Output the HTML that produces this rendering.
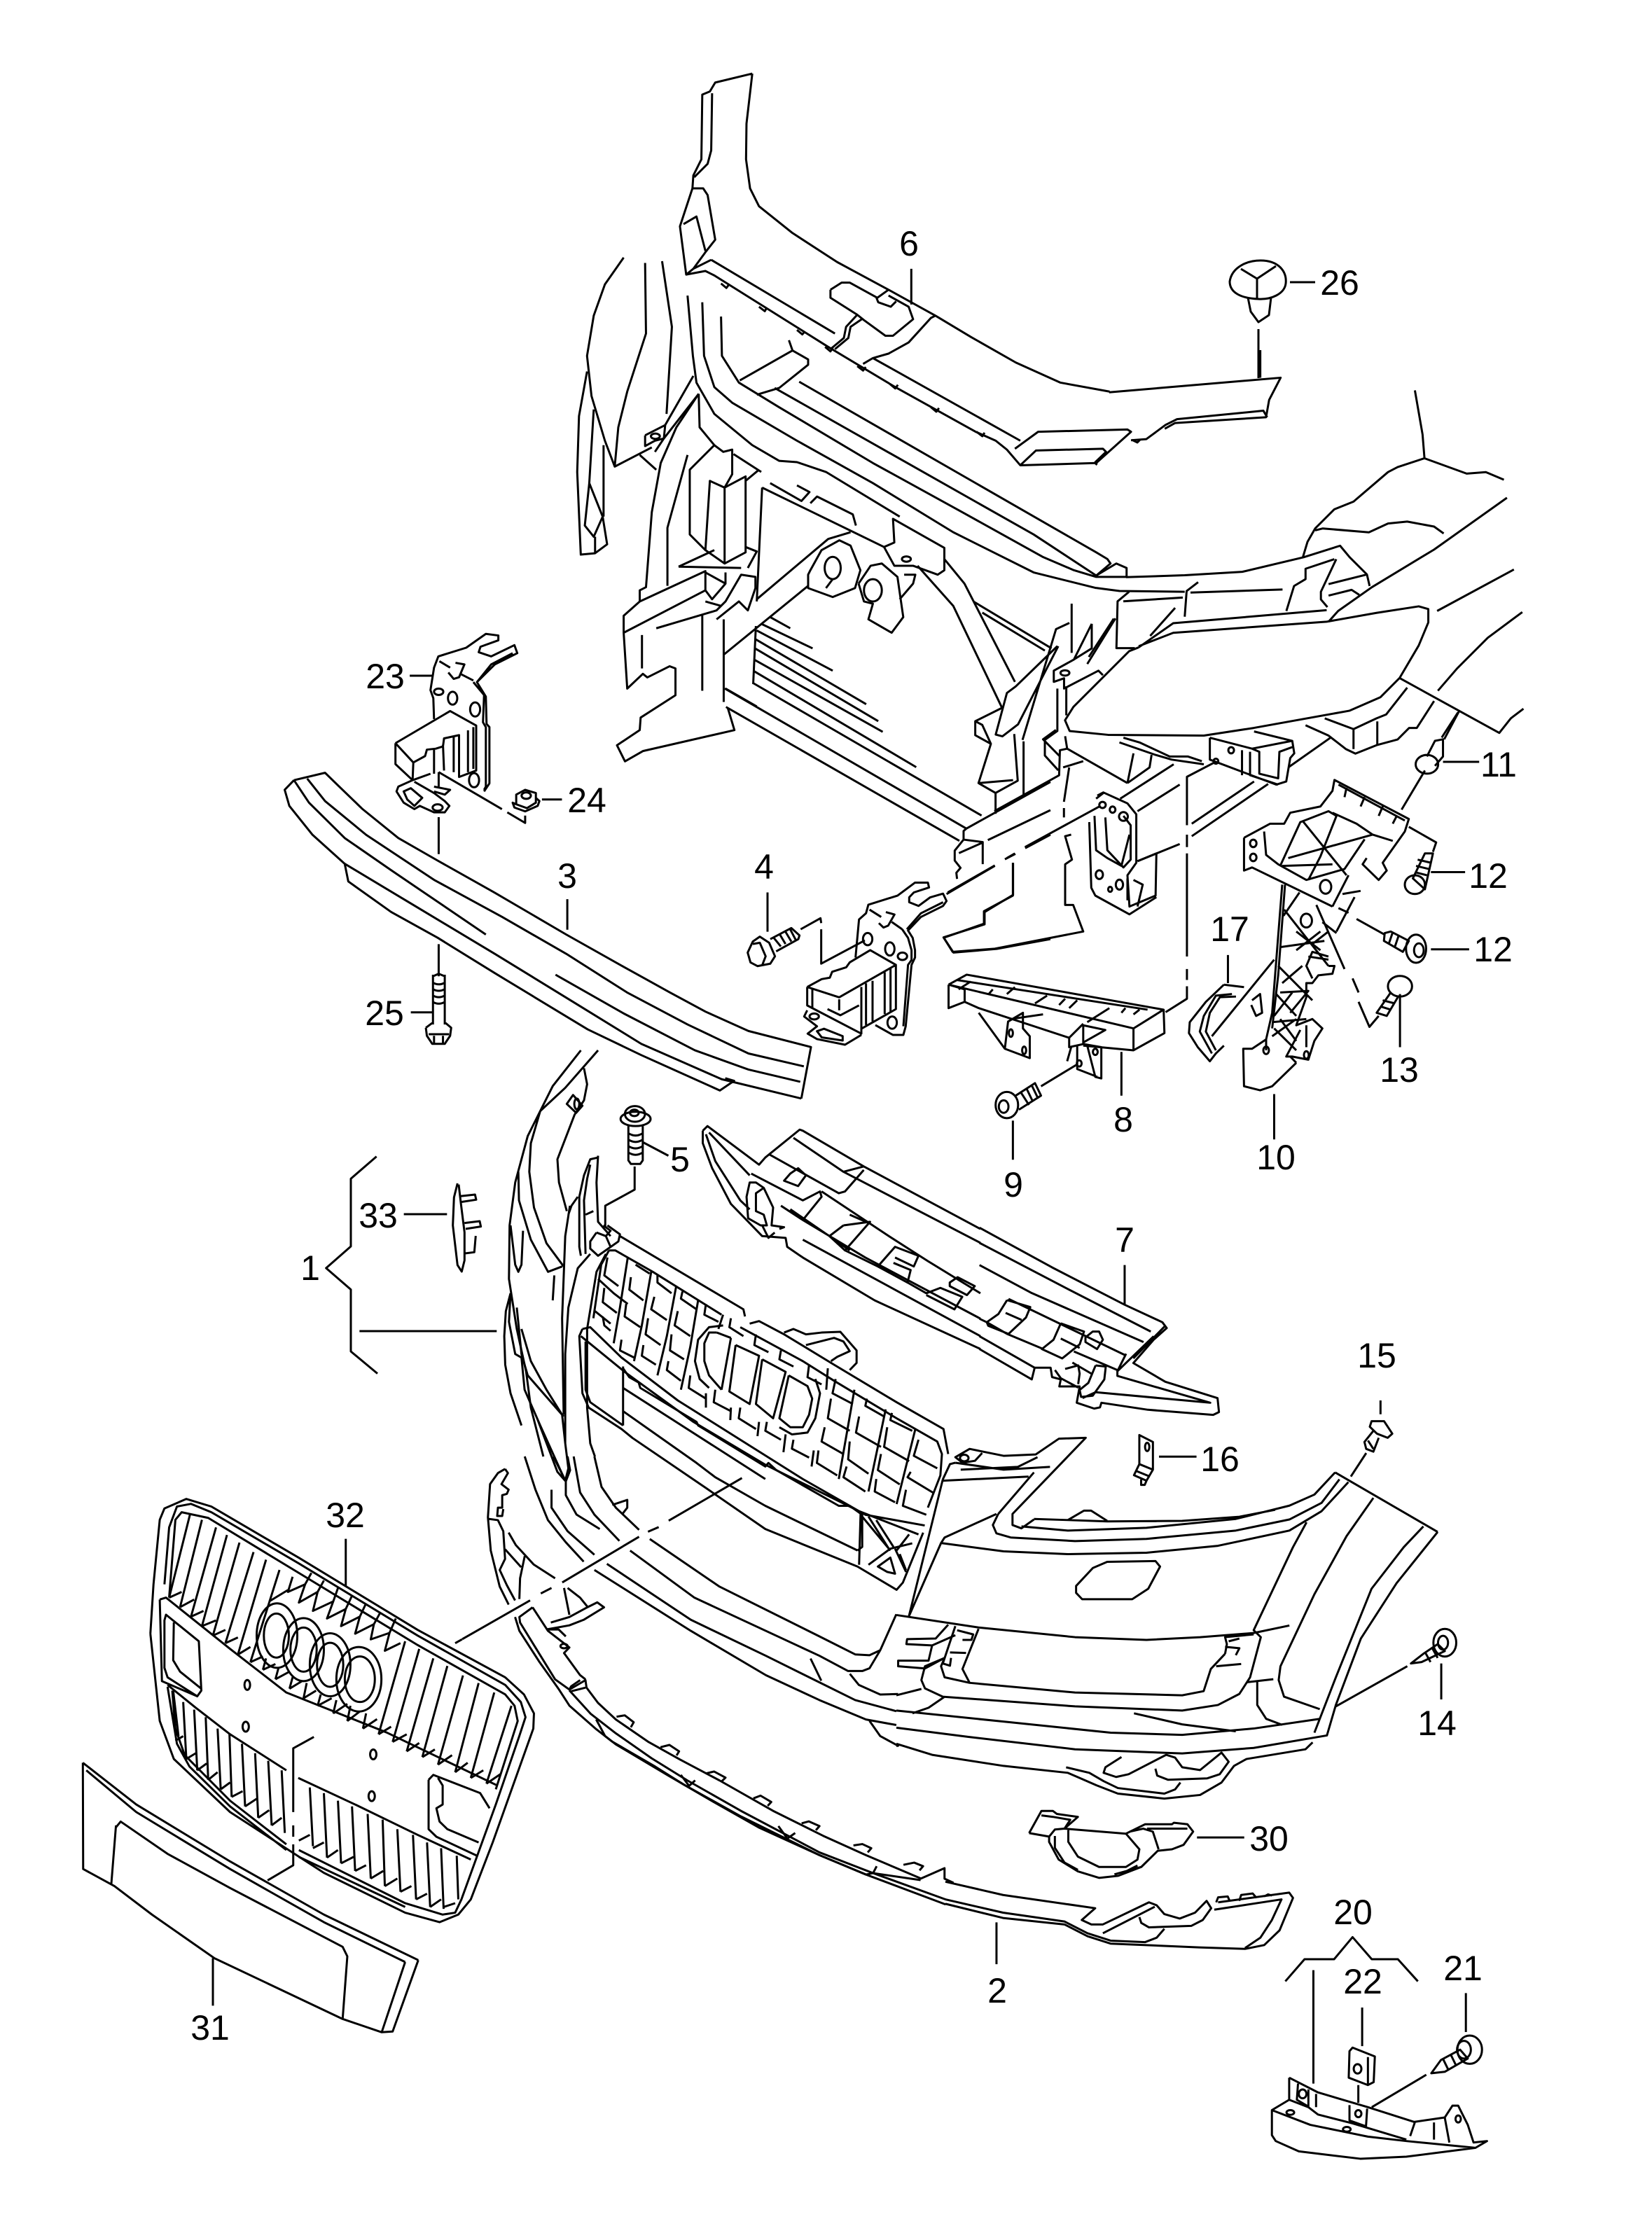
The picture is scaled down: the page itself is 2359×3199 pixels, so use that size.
<!DOCTYPE html>
<html><head><meta charset="utf-8"><style>
html,body{margin:0;padding:0;background:#fff}
svg{display:block}
path,ellipse{fill:none;stroke:#000;stroke-width:3;vector-effect:non-scaling-stroke;stroke-linejoin:round}
text{font-family:"Liberation Sans",sans-serif;font-size:50px;text-anchor:middle;fill:#000}
</style></head><body>
<svg xmlns="http://www.w3.org/2000/svg" width="2359" height="3199" viewBox="0 0 2359 3199">
<rect width="2359" height="3199" fill="#fff"/>

<!-- Z2 upper structure -->
<g transform="translate(800,100) scale(.6378)">
<path d="M430 8L347 28L335 48L318 55L316 200L298 236L296 265M340 52L338 180L330 210L300 240M430 8L417 120L416 200L425 265L445 305L520 365L620 430L735 492L840 550L920 598L1020 655L1120 700L1230 720M296 265L320 265L330 280L347 380L325 408L298 445L282 458L268 350L296 265M276 345L305 328L325 405M298 445L338 425M282 458L325 450L345 460L600 620L750 710L930 810L975 830L1000 850L1030 885L1200 880L1278 810L1270 805L1070 810L1018 848M1030 885L1065 852L1215 848L1222 855L1198 878M338 425L615 590M700 645L1030 830"/>
<path d="M605 492L630 476L648 476L710 510L735 492M605 492L605 510L665 548L680 560L728 595L745 595L790 558L780 530L735 505M708 510L712 520L740 530L752 518M665 548L640 575L635 600L605 625M675 558L650 575L645 600L615 625M840 550L830 555L780 610L735 635L700 645L678 658M786 445L786 525"/>
<path d="M360 478L372 488L378 480M445 530L458 540L462 533M530 582L542 592L548 585M593 620L605 630L610 622M665 663L678 673L684 665M738 703L750 713L756 705M830 755L842 765L848 757M932 810L945 820L950 812M1280 828L1292 834L1298 828M1195 878L1202 884"/>
<path d="M142 420L100 480L75 550L60 640L70 730L100 830L122 888L205 845M190 432L192 590L150 720L130 800L122 888M228 428L250 575L238 770M60 675L42 775L38 900L46 1085L78 1082L105 1062L95 1000L65 925L55 1020L75 1045L95 1000M75 760L65 925M78 1045L78 1082M97 840L97 1000M190 818L235 795L298 685M190 818L190 842L212 830L232 825L212 855M235 795L232 825L310 725M178 862L215 895"/>
<path d="M285 505L297 640L305 700L345 770L430 840L490 875L530 878L595 900L760 1000M310 725L312 800L345 840M402 695L520 628L555 648L555 660L490 712L440 727M520 628L512 605M480 712L1060 1040L1200 1132M535 698L1200 1080L1225 1095L1232 1105L1200 1132L1245 1105L1268 1115L1268 1135M360 552L362 640L400 700L490 755L700 880L900 990L1080 1090L1150 1120L1200 1135L1268 1135M318 520L322 640L345 710L385 745L530 830L700 925L880 1035L1060 1125L1200 1160"/>
<path d="M860 1095L905 1150L1018 1370M800 1110L880 1200L990 1430M925 1190L1100 1295M945 1215L1085 1300"/>
<path d="M345 840L290 895L290 1040L325 1075L368 1105L415 1080L415 910L368 935L335 920L325 1075M368 935L368 1105M345 840L365 855L385 850L385 905L368 935M415 920L445 895M388 860L450 900"/>
<path d="M285 862L240 1025L240 1155M310 725L260 800L225 880L205 990L192 1158L178 1165L178 1190L142 1222L142 1260L150 1385L185 1352L195 1360L245 1335L258 1340L258 1400L180 1450L178 1478L127 1512L145 1548L185 1525L390 1478L375 1428M142 1260L325 1165L325 1122L178 1190M183 1265L183 1340M215 1250L350 1210L370 1190L405 1130L437 1135L437 1160L420 1210L400 1190L350 1230M325 1125L370 1150L370 1125M265 1112L345 1075M420 1115L440 1078L415 1068M265 1112L405 1115M325 1165L340 1185L370 1150M325 1190L360 1200M318 1220L318 1390M366 1230L366 1415M370 1385L440 1425"/>
<path d="M452 935L440 1190M452 935L725 1068L748 1058L745 1005L860 1070L860 1120L845 1130L790 1110L748 1110L725 1068M470 925L540 965L558 945L530 930M560 970L575 955L655 995L662 1020M365 1310L555 1155M440 1185L600 1050L650 1035"/>
<path d="M560 1120L585 1075L625 1053L650 1065L672 1120L660 1160L610 1180L555 1160L555 1130ZM668 1150L695 1110L720 1105L755 1135L768 1225L742 1260L690 1230L700 1195L680 1190L668 1150M770 1130L795 1130L790 1150L760 1185M595 1160L610 1140"/>
<ellipse cx="775" cy="1095" rx="10" ry="6"/><ellipse cx="610" cy="1115" rx="18" ry="25"/><ellipse cx="700" cy="1165" rx="20" ry="25"/><ellipse cx="213" cy="820" rx="10" ry="6"/><ellipse cx="1130" cy="1350" rx="10" ry="6"/>
<path d="M432 1375L438 1245M470 1225L515 1250M450 1240L565 1295M440 1255L610 1345M438 1275L685 1420M436 1295L712 1458M434 1320L722 1482M432 1345L797 1561"/>
<path d="M1140 1238L1110 1252L1035 1500M1145 1195L1145 1305M1113 1290L1020 1380L1000 1395L975 1488L990 1492L1025 1465L1115 1290M1190 1240L1150 1320L1105 1345L1105 1370L1128 1362L1128 1385L1205 1345L1215 1355M1190 1240L1190 1295L1150 1320M1243 1228L1180 1330M1113 1385L1113 1480L1085 1500L1085 1535L1115 1568M1133 1380L1133 1445"/>
</g>

<!-- Z4 right upper -->
<g transform="translate(1500,500) scale(.5478)">
<path d="M153 110L600 72L570 130L562 175L325 190L298 205M210 235L250 232L300 195L330 180L555 158L565 175M547 0L547 72"/>
<path d="M950 105L970 220L975 282L905 305L880 318L790 395L740 415L690 465L670 500L658 540M975 282L1085 322L1135 318L1182 338M690 470L710 465L830 475L880 452L930 447L1000 460L1025 478M1190 385L1000 520L838 618L750 680L725 708M197 592L350 587L500 578L660 540L755 510L780 540L825 585L832 615M725 610L825 585M725 640L785 625L805 638M740 545L665 570L665 597L635 615L615 680M745 545L705 630L705 650L722 670M119 620L180 628L350 630M365 632L605 624M385 605L355 628L350 695M190 655L345 645M205 630L175 655L172 777L220 777M325 672L260 745M165 700L100 800"/>
<path d="M230 775L320 712L720 678M230 772L320 737L720 708L850 685L960 668L985 675L985 710L960 770L910 855L860 905L780 940L530 985L400 1005L150 1003L50 993L38 965L60 930L205 785L230 775"/>
<path d="M1008 680L1208 572M1230 683L1140 750L1060 830L1010 888M1233 935L1200 960L1170 998L910 855M1000 915L955 985L935 985L905 1015L850 1030L795 1052L770 1040L725 1005L665 978M930 880L875 950L850 960L790 988L715 960M790 988L790 1040M852 968L852 1030M1062 945L1020 1010"/>
</g>

<!-- Z5 mid-right -->
<g transform="translate(1300,1000) scale(.574,.4464)">
<path d="M745 120L745 190L910 270L935 260L945 185L955 170L950 130L855 100M745 120L850 155L950 130M850 155L868 165L868 235L915 250L918 165L950 150M825 160L825 240M845 165L845 240L915 270M755 200L688 245L688 400M688 430L688 470M688 490L688 820M688 860L688 895M688 915L688 955L635 998M1045 120L940 215M855 260L700 395M890 268L700 435M670 460L565 515M670 270L565 355M209 355L370 240L372 160L390 155L540 265M362 95L330 125L372 180M385 115L390 155M430 195L380 215M395 215L382 325M382 345L382 375M522 315L655 205M540 265L555 170M600 175L595 215L540 265M530 120L570 135L645 180L690 180L725 195M520 135L610 175L650 190L730 205"/>
<path d="M465 305L480 295L540 330L562 365L562 520L540 560L545 660L610 625L612 490L565 515M480 297L462 315M445 390L450 600L460 625L545 685L612 630M458 370L462 480L490 505L525 530L545 430M485 375L490 480L530 535L548 510L548 400L530 370M540 640L540 570M555 575L578 590L565 660M470 340L285 470M260 490L240 505M210 530L90 620M400 430L385 435L402 510L385 525L385 655L405 655L430 740L210 795L105 805L83 760L183 715L183 675L255 625L255 520"/>
<ellipse cx="478" cy="335" rx="8" ry="10"/><ellipse cx="503" cy="350" rx="7" ry="10"/><ellipse cx="530" cy="372" rx="11" ry="14"/><ellipse cx="470" cy="558" rx="9" ry="14"/><ellipse cx="497" cy="605" rx="5" ry="8"/><ellipse cx="520" cy="590" rx="9" ry="16"/><ellipse cx="798" cy="160" rx="7" ry="10"/><ellipse cx="760" cy="195" rx="6" ry="8"/>
<path d="M95 910L140 878L630 990L632 1065L555 1120L430 1105M95 910L95 985L135 965L135 925L95 910M95 910L555 1050L630 990M555 1050L555 1120M135 965L170 985L395 1080L430 1035M395 1080L395 1110L430 1100L430 1040L485 1055L430 1095M170 1000L235 1115L297 1145L297 1075L280 1050L280 1000L243 1028L235 1115M150 900L120 925M205 925L195 940M260 918L240 940M340 945L310 970M385 955L370 975M415 960L395 985M495 985L440 1030M535 985L525 1000M570 990L555 1005M250 1020L330 1005M115 895L590 990M430 1100L475 1110L475 1210L460 1205L440 1105M415 1105L415 1180L465 1205M390 1155L400 1110M525 1125L525 1265"/>
<ellipse cx="250" cy="1065" rx="5" ry="12"/><ellipse cx="283" cy="1120" rx="5" ry="12"/><ellipse cx="460" cy="1125" rx="6" ry="10"/><ellipse cx="420" cy="1162" rx="6" ry="10"/>
<ellipse cx="240" cy="1295" rx="28" ry="42"/><ellipse cx="232" cy="1300" rx="12" ry="20"/>
<path d="M262 1265L310 1225L325 1265L270 1310M275 1255L295 1295M290 1245L305 1285M303 1235L318 1275M325 1235L415 1165M255 1345L255 1470"/>
<path d="M780 910L830 918M790 815L790 905M780 910L735 965L695 1030L693 1065L715 1110L745 1155L760 1130L780 1105M800 940L760 945L730 1010L720 1060L750 1130M810 948L770 950L745 1000L735 1060L760 1120M905 830L750 1075M850 960L870 940L875 1000L860 1010L848 975"/>
<path d="M925 590L900 1000L885 1085L850 1115L828 1115L830 1235L870 1248L900 1235L960 1160M932 590L915 880L900 1050M968 615L928 690M930 670L1040 850M920 790L1030 770M1040 740L1000 780M915 850L1000 960M920 935L990 930L945 1000M1025 710L1060 745M1010 655L1080 860M1100 890L1115 935M1115 965L1142 1045L1165 1010M1040 850L1055 850L1050 875L1015 880L1000 905L985 905L985 950L960 1040L1000 1020L1025 1050L1005 1090L990 1150L950 1140L935 1140L970 1055M1040 820L1000 805L985 850L1000 890M905 1050L960 1120M950 935L905 1010"/>
<path d="M960 740L1020 800M1020 740L960 800M975 850L925 905M910 940L960 1010M900 1030L985 1020M920 1020L960 1090M960 1020L900 1075M985 1040L985 1110M885 1085L885 1120M960 1160L945 1140M990 820L1040 830"/>
<ellipse cx="985" cy="705" rx="14" ry="22"/><ellipse cx="885" cy="1120" rx="7" ry="12"/><ellipse cx="985" cy="1135" rx="6" ry="12"/>
<path d="M830 440L830 545L850 535L1050 660M830 440L895 395L930 395L945 360L1020 340L1050 290L1055 255L1240 380L1230 420L1175 520L1185 545L1165 575L1125 525L1135 505M880 420L885 495L915 525L985 575L1080 540L1130 445M920 530L970 390L1040 355L1060 370L1020 500L990 575M975 385L1085 560M940 505L1150 430M925 530L1050 525M1050 360L1110 395L1150 430L1200 450M1065 270L1230 385M1085 280L1080 310M1130 310L1120 340M1175 340L1165 370M1210 370L1200 395M1090 560L1050 660M1105 630L1060 740M1120 610L1075 620M1065 665L1090 680M1110 700L1180 750"/>
<ellipse cx="853" cy="458" rx="8" ry="12"/><ellipse cx="853" cy="503" rx="8" ry="12"/><ellipse cx="1033" cy="597" rx="14" ry="22"/>
<path d="M1240 405L1308 455L1300 485M1280 490L1300 490L1280 605L1250 570ZM1262 510L1295 520M1258 530L1290 540M1255 550L1285 560"/><ellipse cx="1255" cy="590" rx="25" ry="30"/>
<path d="M1295 550L1380 550M1295 797L1390 797M1180 745L1195 740L1240 770L1225 805L1178 770ZM1200 742L1190 780M1215 752L1205 790"/><ellipse cx="1258" cy="795" rx="25" ry="45"/><ellipse cx="1265" cy="800" rx="12" ry="22"/>
<ellipse cx="1285" cy="205" rx="28" ry="30"/>
<path d="M1285 180L1305 130L1325 125L1325 180L1305 210M1365 35L1328 125M1280 225L1222 350M1325 197L1415 197"/>
<ellipse cx="1218" cy="915" rx="30" ry="33"/><path d="M1195 935L1160 1000L1185 1010L1215 945M1175 960L1205 970M1170 980L1195 990M1218 940L1218 1110"/>
<path d="M905 1260L905 1405"/>
</g>

<!-- Z6 bar 3, 23 -->
<g transform="translate(380,880) scale(.5102,.4592)">
<path d="M470 320L468 255L460 230L470 160L482 125L560 98L615 55L650 60L650 75L600 95L595 112L630 125L695 90L703 115L640 150L590 205L615 250L617 335L625 345L625 520L610 545M580 205L610 245L607 330L615 345L615 530L610 540M590 205L630 150L690 115M485 140L515 160M545 180L580 200M510 175L525 195L540 190L555 150L530 145M402 185L468 185"/>
<ellipse cx="483" cy="235" rx="13" ry="10"/><ellipse cx="522" cy="255" rx="13" ry="20"/><ellipse cx="585" cy="290" rx="14" ry="22"/><ellipse cx="582" cy="510" rx="14" ry="22"/>
<path d="M362 395L515 295L588 340L588 480L540 500L540 370L498 380L495 405L475 412L450 415L445 435L412 455L362 395M362 395L362 460L410 510L412 455M410 510L460 490M470 415L470 490M495 400L498 480M525 375L525 485M565 355L565 485M580 345L580 475M410 510L370 530L365 545L385 580L415 600L430 590L470 610L500 610L513 590L500 575L470 550L415 515M385 545L405 535L437 565L415 590L395 570ZM470 530L515 540L500 555L470 545"/>
<ellipse cx="480" cy="595" rx="14" ry="10"/>
<path d="M483 485L483 530M483 485L660 600M675 610L725 643L725 620M483 625L483 740M483 1020L483 1120"/>
<path d="M700 555L725 540L755 550L755 580L730 597L700 585ZM700 585L690 580L695 595L725 607L760 590L765 575L755 565M772 570L828 570"/><ellipse cx="728" cy="558" rx="13" ry="10"/>
<path d="M78 510L165 487L200 525L270 600L370 690L480 760L640 860L840 990L1000 1090L1130 1170L1230 1230L1350 1290L1525 1340L1498 1500M78 510L52 540L65 590L130 680L220 770L400 890L640 1050L860 1200L1050 1330L1275 1440L1498 1500M220 770L230 825L350 920L480 1000L640 1110L900 1285L1050 1365L1270 1475L1310 1445L1285 1437M115 505L165 575L280 680L470 820L660 935L840 1050L1010 1170L1180 1270L1350 1360L1505 1400M78 510L120 580L220 690L350 790L615 990M810 1115L1000 1235L1200 1350L1350 1410L1495 1448M843 880L843 975"/>
<path d="M467 1115L467 1270M500 1115L500 1270M467 1120L483 1112L500 1120M467 1140Q483 1150 500 1140M467 1160Q483 1170 500 1160M467 1180Q483 1190 500 1180M467 1200Q483 1210 500 1200M447 1280L465 1265M502 1265L518 1280L515 1305L500 1330L465 1330L450 1305L447 1280M455 1300L512 1300M470 1305L470 1330M495 1305L495 1330M405 1232L465 1232"/>
</g>

<!-- Z10 mid -->
<g transform="translate(1000,950) scale(.3333,.3508)">
<path d="M105 95L1140 665M110 170L1110 715M225 72L1205 612M1140 665L1500 475M1140 665L1128 675L1128 710L1090 755L1090 795L1115 825L1097 845L1100 870M1128 710L1210 720L1210 810M1108 765L1210 722M1232 712L1500 590M1392 745L1500 690M1305 790L1350 768M1060 925L1262 815M1340 805L1340 935L1218 1005L1218 1055L1042 1108L1085 1170L1270 1155L1500 1115M1290 175L1178 228L1178 285L1245 320L1192 480L1265 520L1265 605M1178 228L1208 243L1245 320M1265 520L1360 470L1345 280M1192 480L1340 468M1385 530L1385 310"/>
<path d="M225 1125L255 1105L295 1130L320 1185L300 1215L245 1225L215 1210L203 1170ZM225 1135L255 1130L280 1185L265 1222M300 1115L390 1070L425 1100L420 1115L325 1165M315 1110L345 1145M340 1095L365 1135M365 1085L390 1125M385 1075L410 1120M288 925L288 1085M430 1075L515 1030L518 1050M518 1075L518 1215L705 1120"/>
<path d="M665 1190L680 1035L710 1010L720 975L845 938L920 885L975 885L980 905L915 925L895 945L895 965L935 980L985 945L1040 930L1055 960L1040 980L945 1025L890 1080L910 1110L920 1160L920 1190L905 1220L880 1470L870 1505L825 1505L750 1465M865 1075L890 1110L905 1160L905 1200L890 1220L870 1470M885 1075L945 1010L1040 965M725 995L775 1025M820 1045L865 1075M765 1050L785 1068L805 1060L832 1015L795 1005"/>
<ellipse cx="717" cy="1115" rx="20" ry="25"/><ellipse cx="812" cy="1155" rx="20" ry="27"/><ellipse cx="866" cy="1185" rx="20" ry="15"/><ellipse cx="822" cy="1455" rx="20" ry="25"/>
<path d="M458 1310L520 1278L555 1272L565 1248L625 1230L640 1210L728 1160L838 1220L838 1400L690 1480M458 1310L595 1352L838 1220M458 1310L458 1385L690 1500L690 1310M480 1320L480 1395M595 1360L595 1405M545 1400L600 1425L680 1385M710 1295L710 1465M738 1285L738 1450M790 1250L790 1420M815 1235L815 1410M458 1405L445 1430L500 1470L460 1500L500 1522L620 1545L690 1505M500 1490L530 1480L610 1510L610 1528L520 1515Z"/>
<ellipse cx="488" cy="1430" rx="20" ry="12"/>
</g>

<!-- Z12 brace 1 + 33 -->
<g transform="translate(400,1600) scale(.3333)">
<path d="M413 155L303 250L303 540L197 633L303 725L303 990L417 1085M340 903L928 903M530 402L715 402M760 270L745 330L740 450L760 620L778 648L790 600L790 480L775 360L765 275M770 325L835 318L840 340L775 350M790 440L855 432L860 455L795 465M838 495L832 565L792 570"/>
</g>

<!-- Z1 bumper + grille -->
<g transform="translate(700,1500) scale(.4464,.5102)">
<path d="M345 0L240 105L160 170L130 260L125 340L140 440L180 540L235 605M300 50L310 95L300 140L270 180L215 305L220 370L245 450M245 150L265 125L295 155L275 175ZM290 0L200 100L120 240L80 370L62 490L60 640L85 780L115 900L130 1000L170 1137"/>
<ellipse cx="277" cy="150" rx="8" ry="15"/>
<path d="M345 300L320 305L300 350L285 410L285 550L290 575M345 295L340 370L345 480L385 520M320 320L310 360L300 420L305 570M330 450L305 460M340 510L320 535L320 555L345 575L410 535L415 515L375 490M340 510L370 520L385 505L362 490M370 520L385 550M368 495L368 435L462 390L462 325"/>
<!-- bolt 5 -->
<ellipse cx="465" cy="192" rx="48" ry="20"/><ellipse cx="463" cy="178" rx="32" ry="22"/><ellipse cx="461" cy="175" rx="14" ry="9"/>
<path d="M442 212L442 308L450 318L480 318L488 308L488 212M442 232Q465 245 488 232M442 250Q465 263 488 250M442 268Q465 281 488 268M442 286Q465 299 488 286M490 258L570 295"/>
<path d="M250 460L260 435L280 410M320 570L280 610L250 720L240 850L240 1100L250 1170L240 1205L215 1180L150 1030M370 570L340 620L310 780L310 1000L320 1100L335 1137M255 435L240 520L230 750L235 1020M90 340L92 420L130 530L185 620L230 605M205 630L200 700M105 505L100 600L90 620L80 600L65 490M65 680L50 730L45 800L48 880L65 960L100 1050M65 680L60 760L80 850L100 860M85 720L100 850L120 910L235 1025M100 780L130 870L180 950L230 1020M100 860L110 950L160 1050L240 1205M230 1020L240 1100"/>
<path d="M415 520L810 725L815 745M830 765L860 758L940 795L1100 880L1300 985L1450 1060L1465 1130M940 790L970 780L1010 795L1060 790L1120 788L1172 840L1172 875L1150 895M1010 825L1100 805L1130 815L1150 842L1110 858L1090 870"/>
<path d="M380 560L355 600L330 750M380 560L400 560L520 620L740 740M800 775L1000 870L1100 925L1300 1030L1430 1095L1445 1130L1440 1190L1400 1280M295 780L320 775L420 860L600 980L800 1090L1000 1200L1200 1300L1390 1330M290 800L430 900L650 1040L880 1160L1180 1290L1370 1355M295 780L285 800L295 960L315 1000L420 1060L455 1085L690 1225L880 1340L1175 1445L1300 1510L1320 1490L1385 1350M305 815L305 950L320 985L425 1050"/>
<path d="M440 580L415 720L395 820M515 620L485 770L460 870M595 660L565 800L535 910M665 700L640 830L610 950M745 740L730 780M690 960L690 1000M770 1000L768 1035M860 1040L855 1080M945 1075L938 1125M1035 1120L1028 1165M1080 890L1075 950M1165 950L1115 1200M1265 1005L1210 1235M1360 1060L1300 1270"/>
<path d="M375 580L365 630L410 660M345 640L395 680L440 710M365 665L360 705L405 735M335 730L385 765M360 745L365 770L385 785M420 810L415 840L460 860M465 600L510 625M450 635L445 670L490 700M435 710L430 745L480 775M490 825L485 855L530 880M535 630L535 650L580 680M525 690L515 725L565 755M505 750L497 795L545 825M570 870L565 895L610 925M615 675L610 695L660 725M600 730L590 770L640 800M580 795L575 840L620 865M690 710L685 740L730 760M640 910L635 945L690 975M770 750L765 775L810 800M850 795L845 825L890 845M930 840L925 865L970 885M1020 880L1015 915L1060 935M720 950L715 985L770 1010M800 1000L795 1030L850 1060M885 1040L880 1065L930 1090M970 1090L965 1115L1020 1140M1105 920L1095 960L1160 990M1205 975L1200 995L1260 1025M1285 1015L1280 1035L1350 1065M1090 975L1080 1030L1150 1065M1180 1025L1170 1070L1250 1110M1270 1055L1260 1110L1340 1150M1370 1090L1355 1135L1430 1170M1070 1055L1060 1095L1130 1130M1150 1095L1145 1145L1210 1185M1250 1130L1240 1175L1310 1215M1345 1180L1335 1195L1420 1240M1050 1120L1045 1155L1110 1190M1140 1165L1130 1195L1200 1235M1235 1200L1230 1235L1295 1265M1330 1230L1320 1275L1395 1300"/>
<path d="M725 790L700 790L685 820L685 870L700 910L740 950M745 770L700 775L665 810L655 870L670 920L700 945M770 805L740 950M785 825L765 955L830 990L860 855L785 825M870 865L850 990L905 1030L945 900L870 865M955 910L925 1030L960 1055L1000 1055L1020 1020L1030 975L1015 940L955 910M1040 920L1055 960L1040 1030L1015 1070L965 1075L925 1055M725 790L770 805"/>
<path d="M425 885L425 1050M425 890L445 915L475 930L480 945L660 1040L665 1050L880 1165L890 1155L915 1175L1115 1275L1150 1275L1190 1300L1190 1390L1175 1400M425 1010L660 1155L720 1195L880 1275L1175 1400M425 945L880 1200M1185 1290L1180 1440M1185 1300L1280 1400M1210 1305L1275 1395M1235 1315L1290 1390M1300 1400L1340 1355M1210 1440L1280 1395L1350 1380M1240 1445L1280 1420L1295 1465L1270 1460ZM1295 1395L1330 1460M1310 1410L1330 1455"/>
<path d="M680 225L695 212L860 320L880 300L990 222L1000 225L1195 325L1568 500M680 225L680 260L710 330L770 430L820 475L870 520L945 525L950 550L1000 580L1230 700L1568 836M690 235L720 310L800 420L830 445M830 350L700 230M970 245L1130 340L1195 325M1195 335L1135 395L1115 400L890 290M835 345L1000 420L1055 395L1060 410L1000 475L930 435M1060 395L1275 520L1400 590L1568 680M1130 340L1568 539M960 445L1085 520L1135 560L1215 480L1130 490M1085 520L1150 560M1150 460L1215 485M1130 490L1085 520M830 370L820 410L825 470L865 490L885 490L875 460L850 450L850 400L875 385L850 370ZM875 385L905 440L900 490L940 495L925 500M870 490L890 525L910 510M960 345L985 330L1010 350L985 380L940 365ZM1135 560L1240 605L1295 550L1370 575L1355 605L1295 580M1240 605L1335 650L1345 615L1290 595M1335 650L1395 680L1440 665L1510 690L1485 725L1395 685M1470 650L1495 635L1550 660L1525 685L1470 660ZM1000 530L1568 800M1000 475L1200 580L1568 751"/>
</g>

<!-- Z11 part 7 right -->
<g transform="translate(1150,1650) scale(.4145,.3333)">
<path d="M600 310L850 480L1100 640L1230 715L1245 740L1200 790L1130 890L1240 970L1420 1040L1425 1100L1405 1112L1180 1090L1020 1060L1015 1080L995 1085L935 1060L945 990L875 990L880 960L850 950L845 910L790 910L780 960L600 830M600 375L900 570L1190 755M600 470L780 590L1165 800M600 700L625 715L695 765L820 830M600 775L790 910M695 620L775 650L760 695L700 765L630 730L625 715L665 680L695 620M690 675L745 705M700 615L1100 855M880 720L960 755L945 810L885 870L815 830L855 790L880 720M880 785L945 825M925 840L1075 920M965 780L990 755L1012 755L1025 790L1005 830L965 800ZM1105 850L1075 925L1200 775M1075 925L1075 945L1395 1060L1000 1015M1240 730L1130 870M920 888L985 935M1000 900L1035 905L1030 960L990 1030L950 1035L945 1005L975 975L1000 900M860 920L880 955L940 995M895 915L940 900L945 935L940 980M955 1040L1000 1015M1100 470L1100 640"/>
</g>

<!-- Z7 right bumper -->
<g transform="translate(1280,2000) scale(.5102,.3954)">
<path d="M0 775L230 820L500 855L700 865L850 855L1000 840L1100 813M35 780L125 515L135 495L280 410M130 285L35 780M125 515L300 545L480 555L700 550L900 525L1100 470L1190 400L1265 295M285 410L270 450L280 480L320 495L500 508L700 500L950 470L1100 430L1190 370L1240 285M1228 260L1170 340L1100 380L950 428L700 460L480 470L350 455M385 430L350 462L325 450L325 410L530 135L455 138L390 195L300 200L205 175L165 205L185 225L220 218L240 190M165 225L150 230L130 285M165 225L300 250L430 240M130 290L370 275M395 205L340 240L180 250M385 260L285 410M385 428L480 432L525 398L545 398L590 435M480 432L590 437L800 435L960 420L1060 395"/>
<ellipse cx="190" cy="208" rx="12" ry="12"/>
<path d="M550 605L590 583L725 580L738 600L705 680L660 718L520 718L503 695L503 670Z"/>
<path d="M1228 260L1515 475M1335 352L1260 490L1170 700L1075 960L1070 1010L1085 1070L1185 1115M1148 440L1110 530L1000 830L1020 855L990 1000L960 1060L900 1100L800 1120L500 1105L130 1070L80 1040L70 1010L80 960L135 930L125 960L135 1000L205 1020L500 1055L800 1065L860 1050L880 970L920 915M1475 455L1420 530L1330 680L1230 1000L1170 1200M1515 475L1400 660L1300 860L1230 1100L1205 1210L1000 1255L800 1275L500 1260L200 1215L0 1182M1185 1150L1000 1185L800 1208L600 1200L300 1160L0 1120M665 1130L800 1170L950 1195M1010 1015L1010 1100L1035 1150L1080 1172M980 1018L1055 1007M1230 1105L1430 960M135 1070L90 1110L45 1130M0 1065L70 1042"/>
<path d="M0 1240L100 1280L300 1320L480 1345L560 1390L620 1420L750 1438L850 1425L910 1380L945 1320L980 1295L1145 1260L1165 1235M475 1325L540 1345L580 1375L620 1400L750 1420L780 1405L795 1380M630 1288L585 1325L580 1345L615 1360L650 1350L755 1280L780 1290L800 1325L850 1335L910 1272L930 1305L905 1350L870 1365L760 1370L730 1355L725 1330"/>
<path d="M920 915L925 880L920 855L1000 845M895 960L965 952M920 890L960 895L950 920M930 870L960 860M230 825L185 970L205 1020M165 815L130 950L150 958L153 930M170 830L215 845L210 865L185 865M150 910L195 912M145 810L110 860L30 862L28 880L100 885L165 848M100 885L90 940L5 940L5 960L80 968L135 930"/>
<path d="M1330 75L1365 75L1388 120L1375 135L1345 120L1325 95ZM1335 110L1310 150L1315 175L1335 185L1350 135M1320 145L1335 175M1355 0L1355 50M1315 190L1272 275"/>
<path d="M680 125L718 150L718 250L700 290L665 270L680 230ZM680 230L718 250M672 255L710 275M685 285L685 305L695 305L700 290M735 203L840 203"/><ellipse cx="702" cy="168" rx="6" ry="15"/>
<ellipse cx="1535" cy="875" rx="32" ry="50"/><ellipse cx="1530" cy="875" rx="14" ry="25"/>
<path d="M1440 950L1475 915L1515 880L1535 905L1470 945ZM1480 910L1495 945M1500 895L1515 930M1525 950L1525 1080"/>
</g>

<!-- Z8 lower bumper left -->
<g transform="translate(660,2080) scale(.5102,.3954)">
<path d="M120 45L100 60L78 100L72 220L80 340L105 470L130 535M120 45L128 60L110 100L130 120L125 135L112 140L112 185L100 185L98 215L112 215L115 190M72 225L100 230L115 270L120 370L105 410L125 465L148 520M130 275L150 320L200 390L260 440M120 335L165 400M175 360L162 440L160 515"/>
<path d="M175 0L205 120L240 230L290 310L340 380M255 0L290 90L302 50L295 0M290 90L290 140L320 210L385 262M250 120L250 185L295 270L370 355M312 0L330 130L370 210L440 305M370 0L390 110L430 185L495 265M420 175L462 157L462 185L450 205"/>
<path d="M525 298L720 470L1000 650L1100 715L1140 718L1170 700M470 340L650 510L1000 720L1080 775L1120 775L1140 765L1170 700L1215 570M405 388L640 590L850 720L1100 880L1215 920M370 410L640 630L850 790L1000 880L1130 950L1215 970M1140 955L1170 1010L1220 1045L1215 1045M975 730L1005 810M1085 785L1110 825L1170 860L1220 858"/>
<path d="M0 660L190 520M220 495L250 475M280 455L495 290M520 272L550 255M578 232L783 78"/>
<path d="M148 580L160 630L215 740L270 840L300 900L375 985L420 1030L540 1120L620 1185L780 1300L890 1370L1000 1440L1130 1510L1353 1618M197 545L160 580L162 600L260 805L300 842L345 808L348 835L380 890L430 950L520 1030L610 1095L720 1170L870 1280L1010 1370L1130 1440L1285 1525M197 545L240 630L270 660L300 690L285 710L330 790L345 805M300 842L305 830L330 808M305 848L345 835M240 625L270 625L290 650M248 600L300 580L350 545L378 527L397 545L340 590L300 610L235 625M285 475L300 572M295 475L330 510L352 545"/>
<ellipse cx="285" cy="685" rx="10" ry="8"/>
<path d="M300 845L360 930L430 1000L530 1090L630 1170L780 1280L1000 1430L1150 1505L1283 1530M375 950L400 1010L430 1040L580 1155L700 1245L830 1340L1000 1440L1130 1510L1150 1505L1160 1480M612 1150L635 1190L652 1170M885 1335L910 1380L932 1360M1150 1505L1353 1600M1283 1525L1350 1487L1350 1525L1375 1540"/>
<path d="M432 940L455 935L480 960L472 978M555 1050L580 1042L607 1065L600 1080M682 1145L705 1138L737 1160L725 1175M815 1235L835 1225L865 1248L855 1262M950 1325L970 1318L1000 1335L990 1350M1095 1405L1120 1400L1145 1415L1135 1430M1235 1475L1265 1467L1290 1480L1280 1495"/>
</g>

<!-- Z9 bottom right -->
<g transform="translate(1350,2500) scale(.5485,.4209)">
<path d="M0 445L150 490L390 535L355 575L380 590L410 590L530 515L550 525L570 555L610 570L650 550L680 510L692 535L670 575L640 595L530 600L510 585L505 565M0 505L150 550L310 580L370 620L430 645L520 650L550 635L570 605M0 520L150 568L310 590L370 630L430 655L660 668L780 673L830 660L870 610L905 500L895 482L710 515M545 530L410 620M780 670L820 635L850 575L875 505L700 540M705 515L710 498L735 495L740 510M765 510L770 490L800 485L810 500M830 495L840 488L850 492"/>
<path d="M218 280L250 205L280 205L290 215L345 225L310 265L470 282L520 250L590 250L595 245L630 250L645 275L620 320L590 335L553 340L510 395L450 425L400 432L345 410L295 370L270 310L270 292L218 280M250 220L280 225L325 235L310 265M270 292L285 268L310 265M285 290L285 330L310 380L345 405M320 270L320 310L345 360L400 395L470 395L500 370L505 335L470 282M480 275L515 265L540 275L555 335M525 265L630 265M510 395L440 420M500 390L470 410M655 295L778 295M133 583L133 725"/>
<path d="M885 783L935 708L1012 708L1060 633L1110 708L1178 708L1230 783M958 745L958 1130M1085 872L1085 1003M1355 823L1355 955M1052 1020L1060 1008L1118 1038L1115 1125L1100 1135L1050 1110ZM1100 1040L1100 1135M1075 1135L1075 1195M1265 1095L1290 1050L1340 1015L1360 1045L1300 1090ZM1295 1045L1310 1085M1315 1030L1330 1070M1252 1100L1110 1210"/>
<ellipse cx="1073" cy="1080" rx="10" ry="16"/><ellipse cx="1365" cy="1015" rx="32" ry="48"/><ellipse cx="1350" cy="1015" rx="18" ry="30"/>
<path d="M895 1110L895 1185L850 1220L850 1305L860 1325L920 1360L1080 1385L1200 1378L1380 1348L1410 1325L1375 1330L1360 1270L1335 1205L1320 1205L1300 1245L1220 1260L1100 1210L970 1160L895 1110M850 1220L950 1270L1100 1310L1200 1325L1380 1348M895 1185L945 1210L970 1235L1060 1265L1200 1320M918 1130L915 1185L945 1208L945 1150M1052 1203L1052 1255L1095 1275L1098 1215M965 1165L965 1210M1222 1262L1210 1308M1272 1262L1272 1320M1300 1245L1312 1330"/>
<ellipse cx="930" cy="1165" rx="10" ry="15"/><ellipse cx="1075" cy="1232" rx="8" ry="12"/><ellipse cx="898" cy="1228" rx="10" ry="8"/><ellipse cx="1045" cy="1285" rx="10" ry="8"/><ellipse cx="1335" cy="1250" rx="7" ry="12"/>
</g>

<!-- Z3 grille 32 + 31 -->
<g transform="translate(150,2100) scale(.4464,.5421)">
<path d="M145 430L155 300L175 130L190 100L260 75L340 95L620 230L1000 420L1280 545L1340 590L1372 640L1370 680L1240 980L1170 1130L1130 1170L1070 1190L960 1165L700 1060L400 900L220 760L175 660L145 430M190 300L205 150L230 95L275 88L340 110L620 245L1000 435L1280 565L1330 610L1345 650L1325 700L1250 880L1140 1130L1120 1165L1080 1170L960 1140L620 1000M205 335L225 130L245 110L330 125L620 270L1000 460L1280 590L1310 620L1320 660L1250 840M215 580L225 680L255 750L400 870L580 985M200 570L230 720L270 780L400 885L580 1000"/>
<path d="M175 340L195 335L400 470L580 585L900 690L1255 830M175 340L182 555L295 595M195 380L300 450L308 580L295 595L200 545L190 520L190 395ZM220 400L218 500L240 530L308 575M200 565L290 625L400 695L580 790M618 810L800 880L1000 960L1170 1025M1035 815L1050 802L1200 850L1230 890M1035 815L1035 945L1060 965L1190 1015M1065 810L1080 830L1080 880L1060 890L1070 925L1095 945L1195 980"/>
<ellipse cx="455" cy="565" rx="9" ry="13"/><ellipse cx="450" cy="675" rx="10" ry="13"/><ellipse cx="858" cy="748" rx="10" ry="13"/><ellipse cx="853" cy="858" rx="10" ry="13"/>
<path d="M272 115L205 335M310 130L240 360M355 150L275 385M390 170L310 410M430 190L345 435M475 215L385 455M515 235L425 485M558 262L465 505M205 335L245 320M240 360L285 340M275 385L315 370M310 410L355 395M345 435L385 420M385 455L425 440M425 485L465 465"/>
<path d="M600 280L585 320L640 300L620 348L680 320L665 370L730 345L710 390L770 365L755 410L815 385L800 430L860 405L850 445L910 428L895 475L945 455M640 300L660 270M680 320L700 290M730 345L745 310M770 365L790 330M815 385L835 350M860 405L880 375M910 428L930 390M525 345L585 315"/>
<ellipse cx="550" cy="435" rx="65" ry="85"/><ellipse cx="548" cy="435" rx="40" ry="58"/><ellipse cx="635" cy="472" rx="65" ry="83"/><ellipse cx="635" cy="472" rx="42" ry="58"/><ellipse cx="720" cy="512" rx="65" ry="83"/><ellipse cx="720" cy="512" rx="42" ry="58"/><ellipse cx="812" cy="550" rx="72" ry="85"/><ellipse cx="815" cy="550" rx="48" ry="60"/>
<path d="M465 505L505 490M505 525L545 510M545 550L590 530M590 575L630 555M635 600L675 580M680 620L725 600M730 640L775 615M775 660L815 635M825 680L870 655M515 495L505 525M555 520L545 550M600 545L590 575M645 560L635 600M690 590L680 620M740 605L730 640M785 620L775 660M835 640L825 680"/>
<path d="M960 450L875 695M1005 470L920 715M1050 495L965 740M1095 515L1015 755M1145 540L1065 775M1195 560L1120 795M1245 585L1170 810M1300 620L1220 825M875 695L915 675M920 715L965 695M965 740L1005 718M1015 755L1055 735M1065 775L1110 750M1120 795L1160 770M1170 810L1210 790M1220 825L1265 800"/>
<path d="M218 580L235 700M250 610L260 760M285 630L295 790M322 650L330 815M360 680L370 840M398 695L405 860M438 720L448 885M480 745L490 915M522 765L533 935M565 790L575 955M225 712L250 700M260 760L290 745M295 790L325 772M330 815L360 795M370 840L400 822M405 860L440 845M448 885L485 865M490 915L525 895M533 935L565 915"/>
<path d="M655 835L665 990M700 850L710 1020M745 870L755 1035M790 885L800 1055M840 905L850 1075M888 920L895 1095M935 945L945 1110M985 960L995 1130M1030 980L1040 1150M1075 995L1083 1155M1125 1015L1130 1130M620 975L655 960M665 995L700 980M710 1020L745 1000M755 1035L795 1018M800 1055L835 1040M850 1075L890 1055M895 1095L935 1075M945 1110L980 1095M995 1130L1030 1115M1040 1150L1075 1130M1083 1150L1120 1140M620 1018L960 1150"/>
<path d="M668 702L602 732L602 900M602 935L602 965M602 985L602 1040L520 1080M770 180L770 305M1120 455L1142 445"/>
<path d="M35 940L50 925L200 1010L400 1100L760 1255L775 1280L760 1445L885 1480L920 1478L1002 1290M-71 770L100 880L400 1030L700 1170L1002 1290M-60 790L100 900L400 1050L700 1190L960 1295M-71 770L-70 1050L30 1095L150 1170L350 1285L760 1445M35 935L20 1090M960 1295L885 1480M345 1285L345 1410"/>
</g>

<!-- clip 26 and leaders in page coords -->
<path d="M1756 402C1759 382 1780 372 1800 372C1825 372 1838 387 1836 405C1834 420 1815 428 1797 427C1772 426 1756 418 1756 402ZM1772 384L1795 398L1822 380M1795 398L1795 427M1782 425L1786 445L1797 460L1812 450L1815 425M1797 470L1797 540M1842 403L1878 403"/>
<text x="1298" y="365">6</text><text x="1913" y="421">26</text><text x="550" y="983">23</text><text x="838" y="1160">24</text><text x="810" y="1268">3</text><text x="1091" y="1255">4</text><text x="549" y="1464">25</text><text x="971" y="1673">5</text><text x="540" y="1753">33</text><text x="443" y="1828">1</text><text x="1606" y="1788">7</text><text x="1604" y="1616">8</text><text x="1447" y="1709">9</text><text x="1822" y="1670">10</text><text x="2140" y="1109">11</text><text x="2125" y="1268">12</text><text x="2132" y="1373">12</text><text x="1998" y="1545">13</text><text x="1756" y="1344">17</text><text x="1966" y="1953">15</text><text x="1742" y="2101">16</text><text x="2052" y="2478">14</text><text x="1812" y="2643">30</text><text x="1932" y="2748">20</text><text x="1946" y="2847">22</text><text x="2089" y="2828">21</text><text x="1424" y="2860">2</text><text x="493" y="2181">32</text><text x="300" y="2913">31</text>
</svg>
</body></html>
